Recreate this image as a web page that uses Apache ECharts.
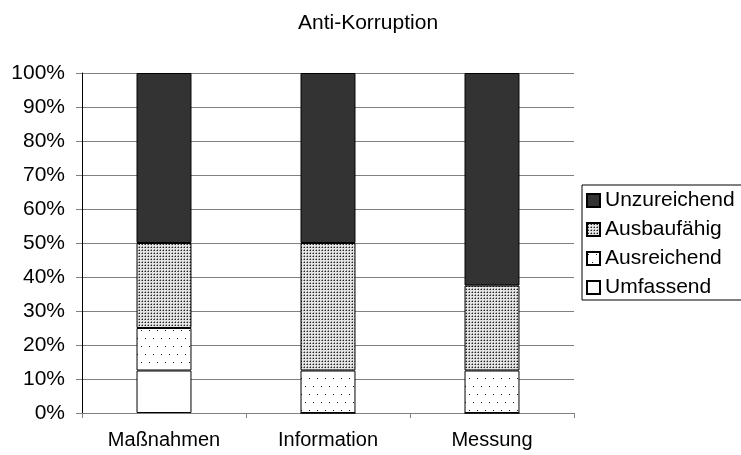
<!DOCTYPE html>
<html><head><meta charset="utf-8">
<script src="https://cdn.jsdelivr.net/npm/echarts@6/dist/echarts.min.js"></script>
<style>html,body{margin:0;padding:0;background:#fff}#c{width:741px;height:455px}</style>
</head><body><div id="c"></div>
<script>
const categories = ['Maßnahmen', 'Information', 'Messung'];
const umfassend = [12.5, 0, 0];
const ausreichend = [12.5, 12.5, 12.5];
const ausbaufaehig = [25, 37.5, 25];
const unzureichend = [50, 50, 62.5];

function pattern(w, h, dots, bg) {
  const c = document.createElement('canvas');
  c.width = w; c.height = h;
  const g = c.getContext('2d');
  g.fillStyle = bg; g.fillRect(0, 0, w, h);
  dots.forEach(d => { g.fillStyle = d[2]; g.fillRect(d[0], d[1], 1, 1); });
  return { image: c, repeat: 'repeat' };
}
const sparse = pattern(8, 16, [[1, 2, '#222'], [5, 10, '#222']], '#ffffff');
const dense = pattern(3, 3, [[1, 1, '#222'], [0, 1, '#888'], [1, 0, '#999']], '#e4e4e4');

const chart = echarts.init(document.getElementById('c'), null, { renderer: 'canvas' });
const font = 'Liberation Sans, Arial, sans-serif';
const base = { type: 'bar', stack: 's', barWidth: '33.5%' };
chart.setOption({
  animation: false,
  textStyle: { fontFamily: font },
  title: { text: 'Anti-Korruption', left: 293, top: 8, textStyle: { fontSize: 21, fontWeight: 'normal', color: '#000', fontFamily: font } },
  legend: {
    orient: 'vertical', left: 582, top: 185, width: 170,
    data: ['Unzureichend', 'Ausbaufähig', 'Ausreichend', 'Umfassend'],
    itemWidth: 13, itemHeight: 13, itemGap: 8,
    borderColor: '#000', borderWidth: 1, padding: [5, 20, 2, 4],
    textStyle: { fontSize: 21, color: '#000', fontFamily: font, padding: [0, 0, 0, 0] },
    icon: 'rect'
  },
  grid: { left: 82, right: 167, top: 73, bottom: 42 },
  xAxis: {
    type: 'category', data: categories,
    axisLine: { lineStyle: { color: '#808080' } },
    axisTick: { show: true, length: 5, lineStyle: { color: '#808080' } },
    axisLabel: { fontSize: 20, color: '#000', margin: 17, fontFamily: font }
  },
  yAxis: {
    type: 'value', min: 0, max: 100, interval: 10,
    axisLine: { show: true, lineStyle: { color: '#000' } },
    axisTick: { show: true, length: 6, lineStyle: { color: '#808080' } },
    axisLabel: { formatter: '{value}%', fontSize: 21, color: '#000', margin: 17, fontFamily: font },
    splitLine: { lineStyle: { color: '#808080' } }
  },
  series: [
    Object.assign({}, base, { name: 'Umfassend', data: umfassend, itemStyle: { color: '#ffffff', borderColor: '#000', borderWidth: 1 } }),
    Object.assign({}, base, { name: 'Ausreichend', data: ausreichend, itemStyle: { color: sparse, borderColor: '#000', borderWidth: 1 } }),
    Object.assign({}, base, { name: 'Ausbaufähig', data: ausbaufaehig, itemStyle: { color: dense, borderColor: '#000', borderWidth: 1 } }),
    Object.assign({}, base, { name: 'Unzureichend', data: unzureichend, itemStyle: { color: '#333333', borderColor: '#000', borderWidth: 1 } })
  ]
});
</script></body></html>
